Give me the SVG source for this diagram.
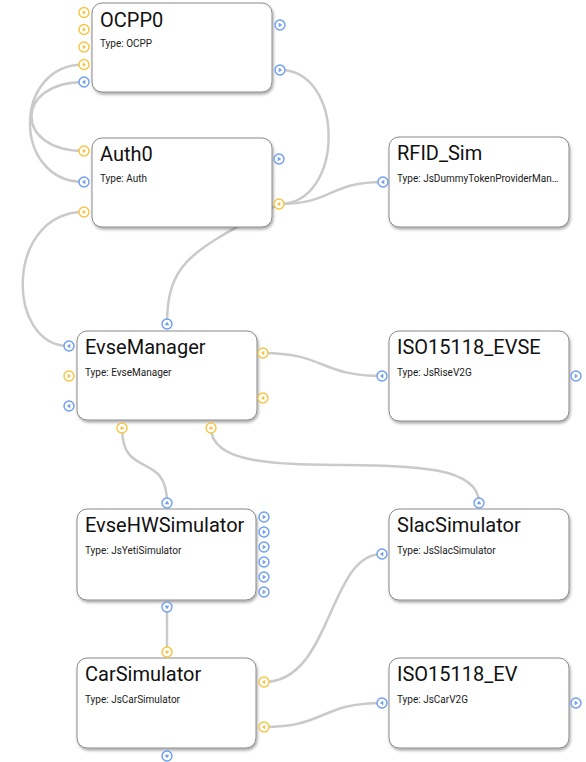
<svg xmlns="http://www.w3.org/2000/svg" xmlns:xlink="http://www.w3.org/1999/xlink" width="586" height="762" viewBox="0 0 586 762">
  <style>
    .box { fill: #ffffff; stroke: #8a8a8a; stroke-width: 1; filter: url(#shadow); }
    .title { font-family: Roboto, "Liberation Sans", sans-serif; font-size: 20px; fill: #111111; }
    .type { font-family: Roboto, "Liberation Sans", sans-serif; font-size: 10px; fill: #1a1a1a; }
    .wire { fill: none; stroke: #cacaca; stroke-width: 2.5; stroke-linecap: round; }
    .y { color: #f5c542; }
    .b { color: #6e9df2; }
    .ring { fill: #ffffff; stroke: currentColor; stroke-width: 1.4; }
    .tri { fill: currentColor; }
  </style>
  <defs>
    <filter id="shadow" x="-10%" y="-10%" width="125%" height="130%">
      <feDropShadow dx="1" dy="2" stdDeviation="1.5" flood-color="#000000" flood-opacity="0.35"/>
    </filter>
    <g id="port-r"><circle class="ring" r="5"/><path class="tri" d="M-1.3,-2.3 L2.2,0 L-1.3,2.3 Z"/></g>
    <g id="port-l"><circle class="ring" r="5"/><path class="tri" d="M1.3,-2.3 L-2.2,0 L1.3,2.3 Z"/></g>
    <g id="port-u"><circle class="ring" r="5"/><path class="tri" d="M-2.3,1.3 L0,-2.2 L2.3,1.3 Z"/></g>
    <g id="port-d"><circle class="ring" r="5"/><path class="tri" d="M-2.3,-1.3 L0,2.2 L2.3,-1.3 Z"/></g>
  </defs>

  <rect width="586" height="762" fill="#ffffff"/>

  <!-- connectors -->
  <g id="connectors">
    <path class="wire" d="M84,64.5 C12,64.5 12,182 84,182"/>
    <path class="wire" d="M84,82 C14,82 14,151 84,151"/>
    <path class="wire" d="M280,70 C345,70 345,204 279,204"/>
    <path class="wire" d="M279,204 C333,204 328,182 383,182"/>
    <path class="wire" d="M279,204 C195,250 167,260 167,324"/>
    <path class="wire" d="M84,212 C5,212 5,346 69,346"/>
    <path class="wire" d="M263,353 C325,353 320,376 382,376"/>
    <path class="wire" d="M122,428 C122,480 167,450 167,503"/>
    <path class="wire" d="M211,428 C211,500 479,430 479,503"/>
    <path class="wire" d="M167,607 L167,652"/>
    <path class="wire" d="M264,682 C332,682 328,554 382,554"/>
    <path class="wire" d="M264,727 C326,727 320,703 382,703"/>
  </g>

  <!-- nodes -->
  <g id="OCPP0">
    <rect class="box" x="92" y="3" width="180" height="89" rx="10"/>
    <text class="title" x="100" y="27">OCPP0</text>
    <text class="type" x="100" y="47">Type: OCPP</text>
    <use href="#port-r" class="y" x="84" y="12.5"/>
    <use href="#port-r" class="y" x="84" y="29.5"/>
    <use href="#port-r" class="y" x="84" y="47"/>
    <use href="#port-r" class="y" x="84" y="64.5"/>
    <use href="#port-l" class="b" x="84" y="82"/>
    <use href="#port-r" class="b" x="280" y="25"/>
    <use href="#port-r" class="b" x="280" y="70"/>
  </g>

  <g id="Auth0">
    <rect class="box" x="92" y="138" width="180" height="89" rx="10"/>
    <text class="title" x="100" y="161">Auth0</text>
    <text class="type" x="100" y="182">Type: Auth</text>
    <use href="#port-r" class="y" x="84" y="151"/>
    <use href="#port-l" class="b" x="84" y="182"/>
    <use href="#port-r" class="y" x="84" y="212"/>
    <use href="#port-r" class="b" x="279" y="159"/>
    <use href="#port-l" class="y" x="279" y="204"/>
  </g>

  <g id="RFID_Sim">
    <rect class="box" x="389" y="137" width="180" height="90" rx="10"/>
    <text class="title" x="397" y="160">RFID_Sim</text>
    <text class="type" x="397" y="182">Type: JsDummyTokenProviderMan…</text>
    <use href="#port-l" class="b" x="383" y="182"/>
  </g>

  <g id="EvseManager">
    <rect class="box" x="77" y="331" width="180" height="89" rx="10"/>
    <text class="title" x="85" y="354">EvseManager</text>
    <text class="type" x="85" y="376">Type: EvseManager</text>
    <use href="#port-u" class="b" x="167" y="324"/>
    <use href="#port-l" class="b" x="69" y="346"/>
    <use href="#port-r" class="y" x="69" y="376"/>
    <use href="#port-l" class="b" x="69" y="406"/>
    <use href="#port-l" class="y" x="263" y="353"/>
    <use href="#port-l" class="y" x="263" y="398"/>
    <use href="#port-u" class="y" x="122" y="428"/>
    <use href="#port-u" class="y" x="211" y="428"/>
  </g>

  <g id="ISO15118_EVSE">
    <rect class="box" x="389" y="331" width="180" height="90" rx="10"/>
    <text class="title" x="397" y="354">ISO15118_EVSE</text>
    <text class="type" x="397" y="376">Type: JsRiseV2G</text>
    <use href="#port-l" class="b" x="382" y="376"/>
    <use href="#port-r" class="b" x="576" y="376"/>
  </g>

  <g id="EvseHWSimulator">
    <rect class="box" x="77" y="509" width="179" height="91" rx="10"/>
    <text class="title" x="85" y="532">EvseHWSimulator</text>
    <text class="type" x="85" y="554">Type: JsYetiSimulator</text>
    <use href="#port-u" class="b" x="167" y="503"/>
    <use href="#port-r" class="b" x="264" y="517"/>
    <use href="#port-r" class="b" x="264" y="532"/>
    <use href="#port-r" class="b" x="264" y="547"/>
    <use href="#port-r" class="b" x="264" y="562"/>
    <use href="#port-r" class="b" x="264" y="577"/>
    <use href="#port-r" class="b" x="264" y="592"/>
    <use href="#port-d" class="b" x="167" y="607"/>
  </g>

  <g id="SlacSimulator">
    <rect class="box" x="389" y="509" width="180" height="91" rx="10"/>
    <text class="title" x="397" y="532">SlacSimulator</text>
    <text class="type" x="397" y="554">Type: JsSlacSimulator</text>
    <use href="#port-u" class="b" x="479" y="503"/>
    <use href="#port-l" class="b" x="382" y="554"/>
  </g>

  <g id="CarSimulator">
    <rect class="box" x="77" y="658" width="179" height="90" rx="10"/>
    <text class="title" x="85" y="681">CarSimulator</text>
    <text class="type" x="85" y="703">Type: JsCarSimulator</text>
    <use href="#port-d" class="y" x="167" y="652"/>
    <use href="#port-l" class="y" x="264" y="682"/>
    <use href="#port-l" class="y" x="264" y="727"/>
    <use href="#port-d" class="b" x="167" y="756"/>
  </g>

  <g id="ISO15118_EV">
    <rect class="box" x="389" y="658" width="180" height="90" rx="10"/>
    <text class="title" x="397" y="681">ISO15118_EV</text>
    <text class="type" x="397" y="703">Type: JsCarV2G</text>
    <use href="#port-l" class="b" x="382" y="703"/>
    <use href="#port-r" class="b" x="576" y="703"/>
  </g>
</svg>
